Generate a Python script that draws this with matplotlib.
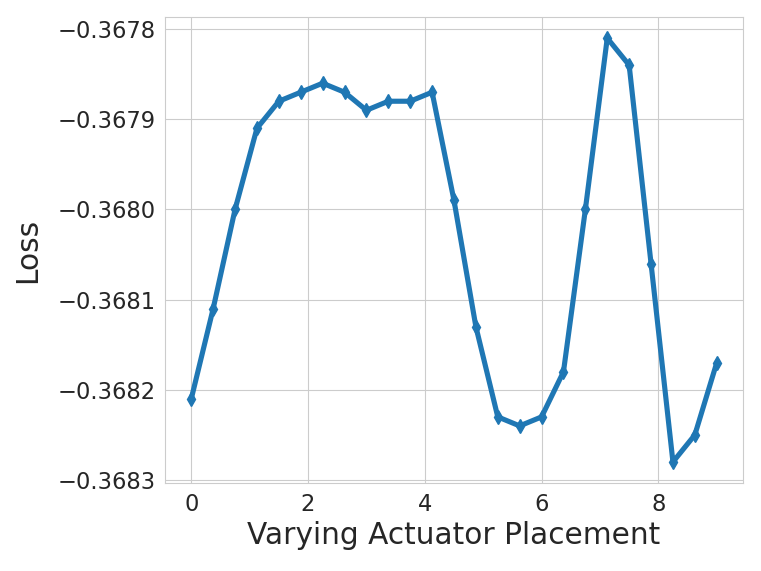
import numpy as np
import matplotlib
matplotlib.use("Agg")
import matplotlib.pyplot as plt
import seaborn as sns

sns.set_style("whitegrid")
plt.rcParams['font.family'] = ['DejaVu Sans']

x = np.linspace(0, 9, 25)
loss = [-0.36821, -0.36811, -0.36800, -0.36791, -0.36788, -0.36787, -0.36786,
        -0.36787, -0.36789, -0.36788, -0.36788, -0.36787, -0.36799, -0.36813,
        -0.36823, -0.36824, -0.36823, -0.36818, -0.36800, -0.36781, -0.36784,
        -0.36806, -0.36828, -0.36825, -0.36817]

fig = plt.figure(figsize=(7.61, 5.71), dpi=100)
ax = fig.add_axes([165/761, 1 - 483/571, (743-165)/761, (483-17)/571])
ax.plot(x, loss, marker='d', color='#1f77b4', linewidth=3.7, markersize=7.5)
ax.set_xlim(-0.45, 9.45)
ax.set_ylim(-0.3683033, -0.3677866)
ax.set_yticks([-0.3683, -0.3682, -0.3681, -0.3680, -0.3679, -0.3678])
ax.set_xticks([0, 2, 4, 6, 8])
ax.tick_params(labelsize=16.3, colors='#262626')
ax.set_xlabel("Varying Actuator Placement", fontsize=21.3, color='#262626', labelpad=4)
ax.set_ylabel("Loss", fontsize=21.3, color='#262626', labelpad=11)
ax.ticklabel_format(axis='y', useOffset=False, style='plain')
fig.savefig("out.png", dpi=100)
